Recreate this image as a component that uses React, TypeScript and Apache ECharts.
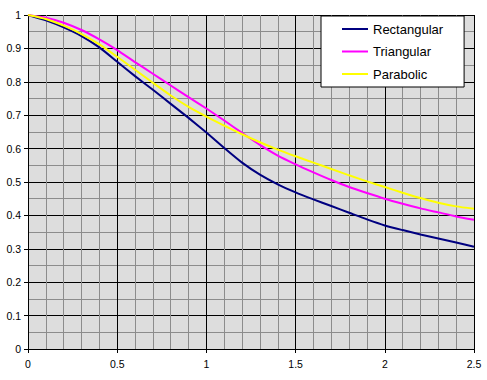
import React, { useEffect, useRef } from "react";
import * as echarts from "echarts";

const xValues = [0, 0.1, 0.2, 0.3, 0.4, 0.5, 0.6, 0.7, 0.8, 0.9, 1.0, 1.1, 1.2, 1.3, 1.4, 1.5, 1.6, 1.7, 1.8, 1.9, 2.0, 2.1, 2.2, 2.3, 2.4, 2.5];
const rectangular = [1, 0.984, 0.963, 0.937, 0.903, 0.86, 0.817, 0.776, 0.734, 0.692, 0.648, 0.602, 0.558, 0.522, 0.493, 0.469, 0.448, 0.428, 0.408, 0.388, 0.37, 0.356, 0.343, 0.331, 0.319, 0.306];
const triangular = [1, 0.992, 0.977, 0.955, 0.927, 0.895, 0.859, 0.824, 0.789, 0.754, 0.72, 0.684, 0.647, 0.611, 0.579, 0.553, 0.529, 0.506, 0.485, 0.467, 0.45, 0.435, 0.421, 0.409, 0.397, 0.387];
const parabolic = [1, 0.988, 0.968, 0.943, 0.912, 0.875, 0.836, 0.797, 0.759, 0.725, 0.696, 0.669, 0.643, 0.619, 0.597, 0.577, 0.558, 0.539, 0.52, 0.502, 0.485, 0.468, 0.452, 0.438, 0.427, 0.42];
const seriesNames = ["Rectangular", "Triangular", "Parabolic"];
const seriesColors = ["#000080", "#FF00FF", "#FFFF00"];

const FONT = "'Liberation Sans', Arial, sans-serif";

export default function App() {
  const ref = useRef<HTMLDivElement>(null);
  useEffect(() => {
    document.body.style.margin = "0";
    if (!ref.current) return;
    const chart = echarts.init(ref.current, null, { renderer: "svg" });
    const allData = [rectangular, triangular, parabolic];
    chart.setOption({
      animation: false,
      backgroundColor: "#ffffff",
      textStyle: { fontFamily: FONT },
      grid: {
        left: 28,
        right: 13,
        top: 15,
        bottom: 31,
        show: true,
        backgroundColor: "#DDDDDD",
        borderWidth: 0,
      },
      legend: {
        show: true,
        orient: "vertical",
        left: 321,
        top: 16,
        padding: [6, 21, 6, 21],
        itemGap: 8.5,
        itemWidth: 26,
        itemHeight: 2,
        icon: "rect",
        backgroundColor: "#ffffff",
        borderColor: "#000000",
        borderWidth: 1,
        borderRadius: 0,
        textStyle: { fontFamily: FONT, fontSize: 13, color: "#000000", lineHeight: 14 },
        data: seriesNames,
      },
      xAxis: {
        type: "value",
        min: 0,
        max: 2.5,
        interval: 0.5,
        axisLine: { show: true, onZero: false, lineStyle: { color: "#000000", width: 1 } },
        axisTick: { show: true, length: 4, lineStyle: { color: "#000000" } },
        axisLabel: { color: "#000000", fontSize: 10.5, fontFamily: FONT, margin: 9 },
        splitLine: { show: true, lineStyle: { color: "#000000", width: 1 } },
        minorTick: { show: false, splitNumber: 5 },
        minorSplitLine: { show: true, lineStyle: { color: "#8C8C8C", width: 1 } },
      },
      yAxis: {
        type: "value",
        min: 0,
        max: 1,
        interval: 0.1,
        axisLine: { show: true, onZero: false, lineStyle: { color: "#000000", width: 1 } },
        axisTick: { show: true, length: 4, lineStyle: { color: "#000000" } },
        axisLabel: { color: "#000000", fontSize: 10.5, fontFamily: FONT, margin: 7 },
        splitLine: { show: true, lineStyle: { color: "#000000", width: 1 } },
        minorTick: { show: false, splitNumber: 2 },
        minorSplitLine: { show: true, lineStyle: { color: "#8C8C8C", width: 1 } },
      },
      series: seriesNames.map((name, i) => ({
        name,
        type: "line",
        data: xValues.map((x, j) => [x, allData[i][j]]),
        showSymbol: false,
        symbol: "none",
        smooth: 0.2,
        color: seriesColors[i],
        lineStyle: { color: seriesColors[i], width: 2 },
        z: 3 + i,
      })),
    });
    return () => chart.dispose();
  }, []);
  return <div ref={ref} style={{ width: 487, height: 380 }} />;
}
